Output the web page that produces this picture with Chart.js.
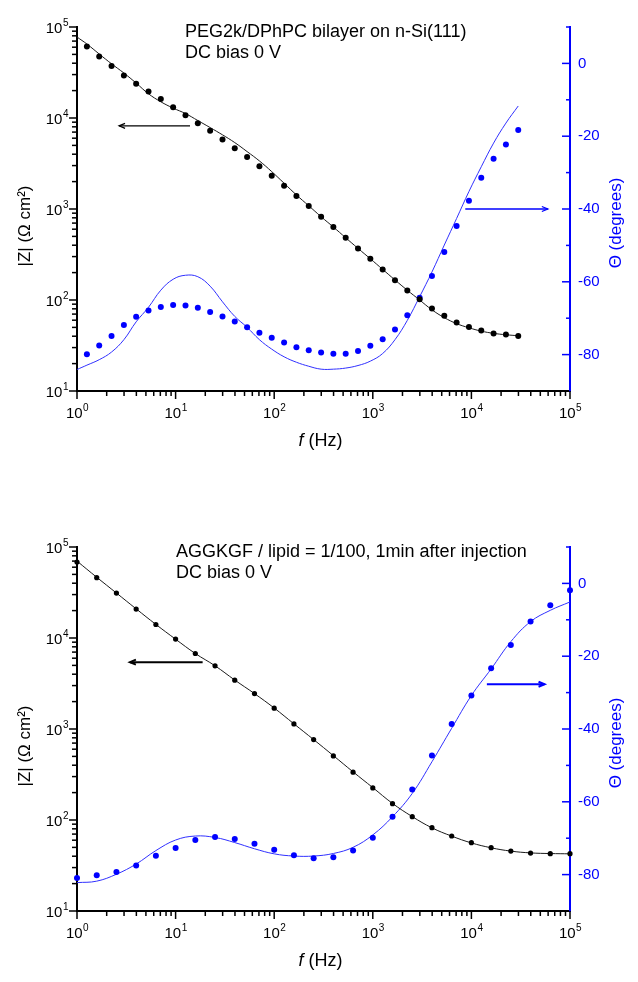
<!DOCTYPE html>
<html lang="en">
<head>
<meta charset="UTF-8">
<title>Impedance spectra – PEG2k/DPhPC bilayer on n-Si(111)</title>
<script src="https://cdn.jsdelivr.net/npm/chart.js"></script>
<style>
  html, body { margin:0; padding:0; background:#fff; }
  .panel { position:absolute; left:0; width:638px; height:462px; }
  #p1 { top:0; }
  #p2 { top:520px; }
</style>
</head>
<body>
<div class="panel" id="p1"><canvas id="c1" width="638" height="462"></canvas></div>
<div class="panel" id="p2"><canvas id="c2" width="638" height="462"></canvas></div>

<script>
// ---- top panel: PEG2k/DPhPC bilayer, 8 points per decade ----
const freqTop = [1.26,1.68,2.24,2.99,3.98,5.31,7.08,9.44,12.6,16.8,22.4,29.9,39.8,53.1,70.8,94.4,
  126,168,224,299,398,531,708,944,1259,1679,2239,2985,3981,5309,7079,9441,12589,16788,22387,29854];
const zTop = [61100,47500,37200,29300,23800,19550,16130,13160,10750,8780,7220,5790,4660,3735,2950,2325,
  1805,1390,1079,823,634,483,369,284,217,165,127,102,80.7,67.3,56.6,50.6,46.2,42.8,41.8,40.3];
const thetaTop = [-79.9,-77.5,-74.9,-71.9,-69.6,-67.9,-66.9,-66.4,-66.5,-67.1,-68.3,-69.5,-70.9,-72.5,-74.0,-75.4,
  -76.7,-78.0,-78.8,-79.4,-79.8,-79.8,-79.0,-77.6,-75.8,-73.1,-69.2,-64.4,-58.4,-51.8,-44.7,-37.7,-31.4,-26.2,-22.3,-18.3];
// fitted curves (first value at 1 Hz, then at freqTop)
const fitFreqTop = [1].concat(freqTop);
const zFitTop = [77600,65000,50500,39400,31200,24200,18450,15070,12840,11190,9380,7850,6530,5370,4275,3376,2575,
  1920,1427,1086,823,634,483,369,284,217,166,128,100,78,64,55,49.5,45.5,43,41.5,40.5];
const thetaFitTop = [-84.1,-82.9,-81.4,-79.3,-75.9,-71.0,-67.0,-62.3,-59.3,-58.2,-58.6,-61.2,-65.5,-69.5,-72.5,-75.9,
  -78.5,-80.6,-82.1,-83.2,-84.0,-84.0,-83.7,-83.0,-81.8,-79.7,-75.9,-70.6,-64.1,-57.3,-49.9,-42.6,-35.2,-28.4,-21.9,-16.4,-11.7];

// ---- bottom panel: AGGKGF / lipid = 1/100, 5 points per decade ----
const freqBot = [1,1.585,2.512,3.981,6.31,10,15.85,25.12,39.81,63.1,100,158.5,251.2,398.1,631,1000,
  1585,2512,3981,6310,10000,15850,25120,39810,63100,100000];
const zBot = [68400,45960,31170,20790,14080,9720,6753,4945,3442,2451,1693,1138,765,506,335,225,
  151,108.7,82.3,66.7,56.3,49.6,45.6,43.3,42.7,42.7];
const thetaBot = [-80.9,-80.2,-79.3,-77.5,-74.8,-72.7,-70.5,-69.7,-70.2,-71.5,-73.2,-74.7,-75.5,-75.2,-73.4,-69.9,
  -64.1,-56.6,-47.3,-38.6,-30.8,-23.3,-16.9,-10.5,-6.0,-1.9];
const zFitBot = [70000,46500,31200,20900,14100,9700,6750,4950,3450,2450,1700,1140,765,510,338,227,
  152,109,82,66.5,56,49.5,45.5,43.5,42.8,42.5];
const thetaFitBot = [-82.2,-81.8,-79.9,-77.1,-73.4,-70.5,-69.4,-69.8,-71.2,-72.9,-74.3,-74.9,-74.9,-74.2,-72.5,-69.1,
  -64.1,-57.7,-49.0,-39.8,-30.8,-23.5,-16.0,-10.5,-7.4,-5.1];

// axis tick labels
const xDecadeExp = ['0','1','2','3','4','5'];
const yDecadeExp = ['1','2','3','4','5'];
const thetaLabels = [-80,-60,-40,-20,0];

const FONT = '"Liberation Sans", Arial, Helvetica, sans-serif';
const BLUE = '#0000ff';

function pts(xs, ys){ return xs.map((f,i)=>({x:f, y:ys[i]})); }

// "10" with superscript exponent
function pow10(ctx, exp, x, y, align){
  ctx.font = '15px '+FONT; const w1 = ctx.measureText('10').width;
  ctx.font = '10px '+FONT; const w2 = ctx.measureText(exp).width;
  const x0 = align==='right' ? x-w1-w2 : x-(w1+w2)/2;
  ctx.textAlign='left'; ctx.textBaseline='alphabetic';
  ctx.font = '15px '+FONT; ctx.fillText('10', x0, y);
  ctx.font = '10px '+FONT; ctx.fillText(exp, x0+w1+0.5, y-7);
}

function logTicks(lo, hi){
  const out=[];
  for(let d=lo; d<hi; d++) for(let m=1;m<=9;m++) out.push({v:m*Math.pow(10,d), major:m===1});
  out.push({v:Math.pow(10,hi), major:true});
  return out;
}

function arrow(ctx, x1, y1, x2, y2, color, lw){
  ctx.strokeStyle=color; ctx.lineWidth=lw;
  ctx.beginPath(); ctx.moveTo(x1,y1); ctx.lineTo(x2,y2); ctx.stroke();
  const dir = Math.sign(x2-x1);
  ctx.beginPath(); ctx.moveTo(x2-dir*6, y2-2.5); ctx.lineTo(x2,y2); ctx.lineTo(x2-dir*6, y2+2.5); ctx.stroke();
}

const deco = {
  id:'deco',
  afterDraw(chart, args, o){
    const {ctx, chartArea:a, scales:{x, y, y2}} = chart;
    ctx.save();
    // ticks: x outward (down), left y outward (left)
    ctx.strokeStyle='#000'; ctx.lineWidth=1.5;
    logTicks(0,5).forEach(t=>{
      const px = x.getPixelForValue(t.v);
      ctx.beginPath(); ctx.moveTo(px,a.bottom); ctx.lineTo(px,a.bottom+(t.major?8:5)); ctx.stroke();
    });
    logTicks(1,5).forEach(t=>{
      const py = y.getPixelForValue(t.v);
      ctx.beginPath(); ctx.moveTo(a.left,py); ctx.lineTo(a.left-(t.major?8:5),py); ctx.stroke();
    });
    // right axis ticks point inward
    ctx.strokeStyle=BLUE;
    for(let v=-80; v<=10; v+=10){
      const py = y2.getPixelForValue(v), major = v%20===0;
      ctx.beginPath(); ctx.moveTo(a.right,py); ctx.lineTo(a.right-(major?8:4),py); ctx.stroke();
    }
    // tick labels
    ctx.fillStyle='#000';
    xDecadeExp.forEach((e,i)=>pow10(ctx, e, x.getPixelForValue(Math.pow(10,i)), a.bottom+27));
    yDecadeExp.forEach((e,i)=>pow10(ctx, e, a.left-9, y.getPixelForValue(Math.pow(10,i+1))+5.5, 'right'));
    ctx.fillStyle=BLUE; ctx.font='15px '+FONT; ctx.textAlign='left'; ctx.textBaseline='middle';
    thetaLabels.forEach(v=>ctx.fillText(String(v), a.right+8, y2.getPixelForValue(v)));
    // axis titles
    const mid=(a.top+a.bottom)/2;
    ctx.fillStyle='#000'; ctx.font='17px '+FONT; ctx.textAlign='center'; ctx.textBaseline='middle';
    ctx.save(); ctx.translate(25, mid+17); ctx.rotate(-Math.PI/2); ctx.fillText('|Z| (\u03A9 cm\u00B2)',0,0); ctx.restore();
    ctx.fillStyle=BLUE;
    ctx.save(); ctx.translate(616, mid+14); ctx.rotate(-Math.PI/2); ctx.fillText('\u0398 (degrees)',0,0); ctx.restore();
    ctx.fillStyle='#000'; ctx.textAlign='left';
    ctx.font='italic 18px '+FONT; const wf=ctx.measureText('f').width;
    ctx.font='18px '+FONT; const wr=ctx.measureText(' (Hz)').width;
    const tx=(a.left+a.right)/2-(wf+wr)/2-3;
    ctx.font='italic 18px '+FONT; ctx.fillText('f', tx, a.bottom+50);
    ctx.font='18px '+FONT; ctx.fillText(' (Hz)', tx+wf, a.bottom+50);
    // annotation text
    ctx.font='18px '+FONT; ctx.textBaseline='middle';
    o.lines.forEach((s,i)=>ctx.fillText(s, a.left+o.textDx, a.top+5+i*21));
    // arrows, in data coordinates
    o.arrows.forEach(r=>{
      const sc = chart.scales[r.axis];
      const py = sc.getPixelForValue(r.y);
      arrow(ctx, x.getPixelForValue(r.from), py, x.getPixelForValue(r.to), py, r.color, r.lw);
    });
    ctx.restore();
  }
};

function makePanel(id, cfg){
  const axisBase = (extra)=>Object.assign({grid:{display:false}, ticks:{display:false}}, extra);
  new Chart(document.getElementById(id), {
    type:'scatter',
    data:{datasets:[
      {data:pts(cfg.f, cfg.z), yAxisID:'y', backgroundColor:'#000', borderColor:'#000', pointRadius:cfg.rz, pointBorderWidth:0, showLine:false, clip:false},
      {data:pts(cfg.f, cfg.th), yAxisID:'y2', backgroundColor:BLUE, borderColor:BLUE, pointRadius:3, pointBorderWidth:0, showLine:false, clip:false},
      {data:pts(cfg.ff, cfg.zf), yAxisID:'y', showLine:true, borderColor:'#1a1a1a', borderWidth:1, pointRadius:0, tension:0.4},
      {data:pts(cfg.ff, cfg.thf), yAxisID:'y2', showLine:true, borderColor:'#3030ff', borderWidth:1, pointRadius:0, tension:0.4}
    ]},
    options:{
      responsive:false, animation:false, devicePixelRatio:1,
      layout:{padding:{top:27, left:0, right:0, bottom:0}},
      plugins:{legend:{display:false}, tooltip:{enabled:false},
        deco:{lines:cfg.lines, textDx:cfg.textDx, arrows:cfg.arrows}},
      scales:{
        x:axisBase({type:'logarithmic', min:1, max:1e5, border:{color:'#000', width:2}, afterFit:s=>{s.height=71;}}),
        y:axisBase({type:'logarithmic', position:'left', min:10, max:1e5, border:{color:'#000', width:2}, afterFit:s=>{s.width=77;}}),
        y2:axisBase({type:'linear', position:'right', min:-90, max:10, border:{color:BLUE, width:2}, afterFit:s=>{s.width=68;}})
      }
    },
    plugins:[deco]
  });
}

makePanel('c1', {
  f:freqTop, z:zTop, th:thetaTop, ff:fitFreqTop, zf:zFitTop, thf:thetaFitTop, rz:3,
  lines:['PEG2k/DPhPC bilayer on n-Si(111)', 'DC bias 0 V'], textDx:108,
  arrows:[{axis:'y', y:8200, from:14, to:2.67, color:'#000', lw:1.2},
          {axis:'y2', y:-40, from:8670, to:59600, color:BLUE, lw:1.3}]
});
makePanel('c2', {
  f:freqBot, z:zBot, th:thetaBot, ff:freqBot, zf:zFitBot, thf:thetaFitBot, rz:2.6,
  lines:['AGGKGF / lipid = 1/100, 1min after injection', 'DC bias 0 V'], textDx:99,
  arrows:[{axis:'y', y:5430, from:18.8, to:3.44, color:'#000', lw:2},
          {axis:'y2', y:-27.7, from:14350, to:55200, color:BLUE, lw:2}]
});
</script>
</body>
</html>
